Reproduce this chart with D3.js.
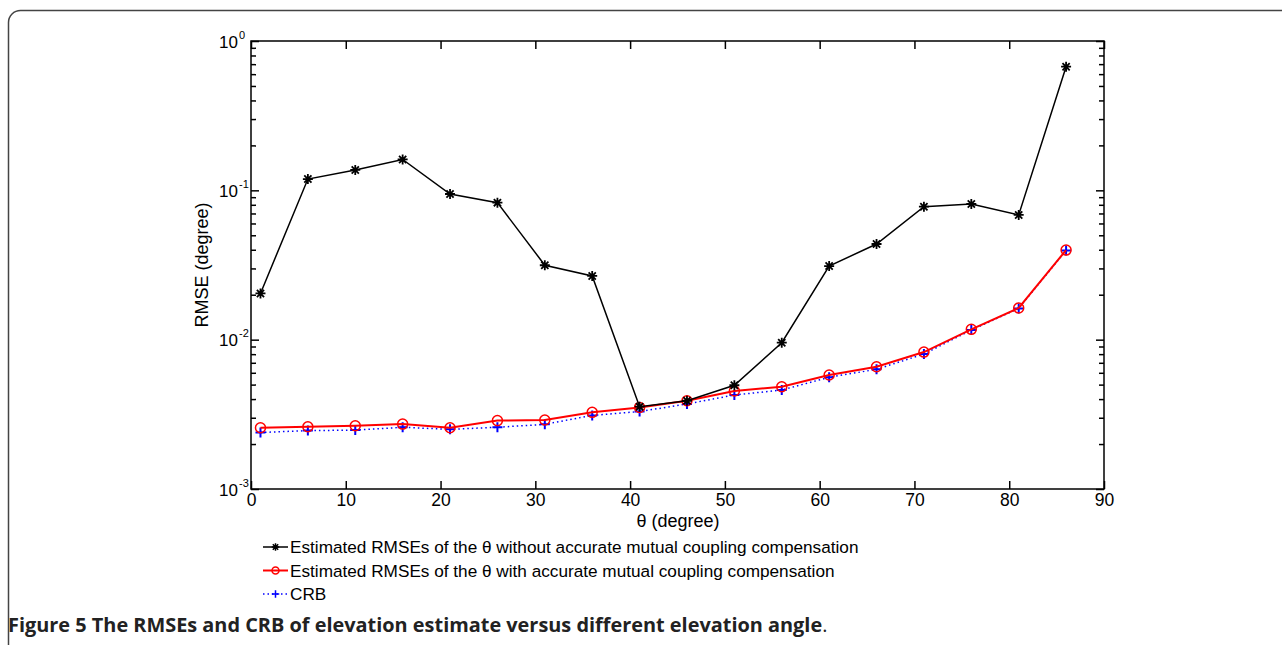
<!DOCTYPE html>
<html>
<head>
<meta charset="utf-8">
<script src="https://cdn.jsdelivr.net/npm/d3@7"></script>
<style>
  body { margin: 0; background: #fff; }
  svg { display: block; }
  .tick text { font-family: "Liberation Sans", Arial, sans-serif; }
</style>
</head>
<body>
<svg id="chart" width="1282" height="645"></svg>
<script>
(function() {

// elevation angles (degree)
var theta = [1, 6, 11, 16, 21, 26, 31, 36, 41, 46, 51, 56, 61, 66, 71, 76, 81, 86];

// RMSE without accurate mutual coupling compensation
var rmse_without = [0.0204, 0.119, 0.137, 0.161, 0.0945, 0.0827, 0.0315, 0.0267, 0.00356,
                    0.0039, 0.00495, 0.00954, 0.0311, 0.0437, 0.0777, 0.081, 0.0684, 0.673];

// RMSE with accurate mutual coupling compensation
var rmse_with = [0.00257, 0.00261, 0.00265, 0.00272, 0.00257, 0.00287, 0.0029, 0.00326, 0.00352,
                 0.0039, 0.00453, 0.00484, 0.0058, 0.00659, 0.00826, 0.01173, 0.0163, 0.0398];

// CRB
var crb = [0.00239, 0.00246, 0.00248, 0.00259, 0.00251, 0.00259, 0.00271, 0.00311, 0.0033,
           0.00371, 0.00426, 0.0046, 0.0056, 0.00633, 0.00802, 0.0116, 0.0162, 0.0396];

var x_ticks = [0, 10, 20, 30, 40, 50, 60, 70, 80, 90];
var y_exps = [0, -1, -2, -3];

var legend_labels = [
    "Estimated RMSEs of the \u03b8 without accurate mutual coupling compensation",
    "Estimated RMSEs of the \u03b8 with accurate mutual coupling compensation",
    "CRB"
];

var svg = d3.select("#chart");
var font = '"Liberation Sans", Arial, sans-serif';

var left = 251, right = 1104, top = 41, bottom = 489;

var x = d3.scaleLinear().domain([0, 90]).range([left, right]);
var y = d3.scaleLog().domain([1e-3, 1]).range([bottom, top]);

// outer frame
svg.append("rect")
    .attr("x", 8.5).attr("y", 10.5)
    .attr("width", 1300).attr("height", 700)
    .attr("rx", 12).attr("ry", 12)
    .attr("fill", "none")
    .attr("stroke", "#444")
    .attr("stroke-width", 1.5);

// minor log ticks
var minor = [];
[-3, -2, -1].forEach(function (e) {
    for (var k = 2; k <= 9; k++) minor.push(k * Math.pow(10, e));
});
var majors = y_exps.map(function (e) { return Math.pow(10, e); });

function style_axis(g) {
    g.select(".domain").remove();
    g.selectAll(".tick line").attr("stroke", "#000").attr("stroke-width", 1.5);
}

svg.append("g")
    .attr("transform", "translate(" + left + ",0)")
    .call(d3.axisLeft(y).tickValues(minor).tickSize(-5).tickFormat(""))
    .call(style_axis);
svg.append("g")
    .attr("transform", "translate(" + right + ",0)")
    .call(d3.axisRight(y).tickValues(minor).tickSize(-5).tickFormat(""))
    .call(style_axis);
svg.append("g")
    .attr("transform", "translate(" + right + ",0)")
    .call(d3.axisRight(y).tickValues(majors).tickSize(-8).tickFormat(""))
    .call(style_axis);

var yl = svg.append("g")
    .attr("transform", "translate(" + left + ",0)")
    .call(d3.axisLeft(y).tickValues(majors).tickSize(-8).tickFormat(""))
    .call(style_axis);

yl.selectAll(".tick").each(function (d) {
    var tk = d3.select(this);
    tk.append("text")
        .attr("fill", "#000")
        .attr("x", -13)
        .attr("y", 6)
        .attr("text-anchor", "end")
        .style("font-family", font)
        .style("font-size", "17px")
        .text("10");
    tk.append("text")
        .attr("fill", "#000")
        .attr("x", -12)
        .attr("y", -3)
        .attr("text-anchor", "start")
        .style("font-family", font)
        .style("font-size", "11px")
        .text(Math.round(Math.log10(d)));
});

svg.append("g")
    .attr("transform", "translate(0," + bottom + ")")
    .call(d3.axisBottom(x).tickValues(x_ticks).tickSize(-8).tickPadding(5))
    .call(style_axis)
    .selectAll("text")
    .attr("fill", "#000")
    .style("font-size", "17.5px");

svg.append("g")
    .attr("transform", "translate(0," + top + ")")
    .call(d3.axisTop(x).tickValues(x_ticks).tickSize(-8).tickFormat(""))
    .call(style_axis);

// plot box
svg.append("rect")
    .attr("x", left).attr("y", top)
    .attr("width", right - left).attr("height", bottom - top)
    .attr("fill", "none")
    .attr("stroke", "#000")
    .attr("stroke-width", 1.5);

// axis labels
svg.append("text")
    .attr("x", 678)
    .attr("y", 527)
    .attr("text-anchor", "middle")
    .style("font-family", font)
    .style("font-size", "18px")
    .text("\u03b8 (degree)");

svg.append("text")
    .attr("transform", "translate(208," + ((top + bottom) / 2) + ") rotate(-90)")
    .attr("text-anchor", "middle")
    .style("font-family", font)
    .style("font-size", "18px")
    .text("RMSE (degree)");

var line = d3.line()
    .x(function (d) { return x(d[0]); })
    .y(function (d) { return y(d[1]); });

function pairs(vals) { return theta.map(function (t, i) { return [t, vals[i]]; }); }

var star = "M-5,0L5,0M0,-5L0,5M-3.6,-3.6L3.6,3.6M-3.6,3.6L3.6,-3.6";
var plus = "M-5,0L5,0M0,-5L0,5";

var series = [
    {vals: rmse_without, color: "#000", width: 1.5, dash: null, marker: "star"},
    {vals: rmse_with, color: "#ff0000", width: 2, dash: null, marker: "circle"},
    {vals: crb, color: "#0000ff", width: 1.5, dash: "1.5,3", marker: "plus"}
];

// draw CRB first so red sits above, black on top
[2, 1, 0].forEach(function (k) {
    var s = series[k];
    var g = svg.append("g");
    g.append("path")
        .datum(pairs(s.vals))
        .attr("d", line)
        .attr("fill", "none")
        .attr("stroke", s.color)
        .attr("stroke-width", s.width)
        .attr("stroke-dasharray", s.dash);
    var pts = g.selectAll(".pt")
        .data(pairs(s.vals))
        .join(s.marker == "circle" ? "circle" : "path")
        .attr("class", "pt");
    if (s.marker == "circle") {
        pts.attr("cx", function (d) { return x(d[0]); })
            .attr("cy", function (d) { return y(d[1]); })
            .attr("r", 5)
            .attr("fill", "none")
            .attr("stroke", s.color)
            .attr("stroke-width", 1.5);
    } else {
        pts.attr("transform", function (d) { return "translate(" + x(d[0]) + "," + y(d[1]) + ")"; })
            .attr("d", s.marker == "star" ? star : plus)
            .attr("fill", "none")
            .attr("stroke", s.color)
            .attr("stroke-width", s.marker == "star" ? 1.8 : 2);
    }
});

// legend
var leg = svg.append("g");
series.forEach(function (s, i) {
    var ly = 547 + i * 23.5;
    var row = leg.append("g").attr("transform", "translate(0," + ly + ")");
    row.append("line")
        .attr("x1", 263).attr("x2", 288)
        .attr("stroke", s.color)
        .attr("stroke-width", s.width)
        .attr("stroke-dasharray", s.dash);
    if (s.marker == "circle") {
        row.append("circle").attr("cx", 275.5).attr("r", 3.5)
            .attr("fill", "none").attr("stroke", s.color).attr("stroke-width", 1.5);
    } else {
        row.append("path")
            .attr("transform", "translate(275.5,0) scale(0.75)")
            .attr("d", s.marker == "star" ? star : plus)
            .attr("fill", "none").attr("stroke", s.color).attr("stroke-width", 2);
    }
    row.append("text")
        .attr("x", 290)
        .attr("y", 6)
        .style("font-family", font)
        .style("font-size", "17.2px")
        .text(legend_labels[i]);
});

// caption
var cap = svg.append("text")
    .attr("x", 8)
    .attr("y", 632)
    .attr("fill", "#222")
    .style("font-family", '"Open Sans", sans-serif')
    .style("font-size", "19.9px");
cap.append("tspan").style("font-weight", "bold")
    .text("Figure 5 The RMSEs and CRB of elevation estimate versus different elevation angle");
cap.append("tspan").text(".");

})()
</script>
</body>
</html>
